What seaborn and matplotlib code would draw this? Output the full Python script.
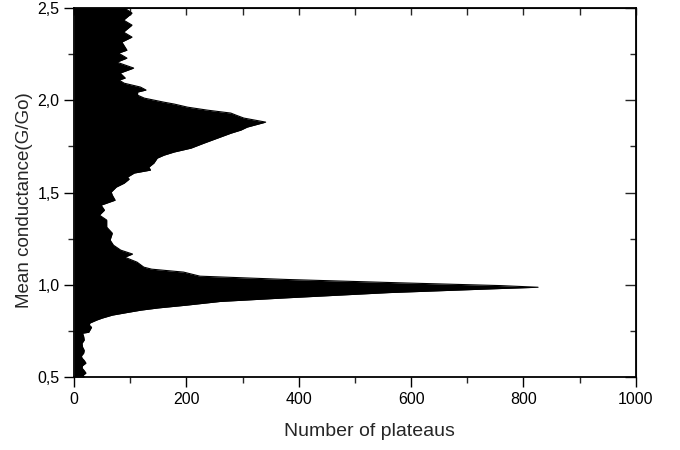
import matplotlib
matplotlib.use('Agg')
import matplotlib.pyplot as plt
import seaborn as sns
from matplotlib.ticker import MultipleLocator, FuncFormatter, NullFormatter

# conductance values (G/Go) and plateau counts
conductance = [0.500, 0.510, 0.522, 0.535, 0.549, 0.562, 0.576, 0.590, 0.603, 0.615,
               0.630, 0.645, 0.663, 0.683, 0.701, 0.720, 0.738, 0.743, 0.754, 0.770,
               0.782, 0.793, 0.809, 0.820, 0.836, 0.850, 0.863, 0.875, 0.890, 0.910,
               0.930, 0.958, 0.980, 0.987, 0.996, 1.011, 1.029, 1.047, 1.053, 1.069,
               1.085, 1.096, 1.123, 1.150, 1.167, 1.188, 1.215, 1.243, 1.280, 1.313,
               1.351, 1.378, 1.405, 1.432, 1.459, 1.486, 1.503, 1.530, 1.551, 1.573,
               1.584, 1.606, 1.622, 1.638, 1.660, 1.687, 1.703, 1.720, 1.741, 1.768,
               1.795, 1.822, 1.839, 1.855, 1.882, 1.904, 1.920, 1.931, 1.947, 1.963,
               1.980, 1.990, 2.012, 2.028, 2.045, 2.056, 2.072, 2.093, 2.110, 2.121,
               2.148, 2.175, 2.207, 2.229, 2.256, 2.272, 2.316, 2.343, 2.370, 2.408,
               2.435, 2.473, 2.500]
plateaus = [18, 16, 21, 18, 14, 15, 21, 18, 14, 13,
            17, 18, 15, 14, 18, 17, 15, 26, 28, 31,
            27, 28, 40, 50, 68, 94, 119, 150, 200, 260,
            380, 560, 758, 826, 758, 580, 380, 224, 216, 195,
            138, 124, 112, 90, 104, 83, 70, 64, 68, 58,
            58, 45, 54, 48, 73, 68, 66, 75, 89, 98,
            95, 107, 136, 133, 142, 148, 160, 178, 208, 231,
            255, 279, 297, 308, 341, 302, 288, 279, 237, 202,
            178, 160, 125, 113, 113, 128, 118, 89, 80, 91,
            82, 106, 76, 94, 79, 94, 85, 103, 88, 103,
            88, 103, 90]

sns.set_style('ticks')
plt.rcParams['font.family'] = ['Liberation Sans', 'DejaVu Sans']

fig, ax = plt.subplots(figsize=(6.8, 4.5), dpi=100)
fig.subplots_adjust(left=0.109, right=0.935, top=0.982, bottom=0.162)

sns.lineplot(x=plateaus, y=conductance, orient='y', estimator=None,
             color='black', lw=0.8, ax=ax)
ax.fill_betweenx(conductance, 0, plateaus, color='black', lw=0)

ax.set_xlim(0, 1000)
ax.set_ylim(0.5, 2.5)
ax.xaxis.set_major_locator(MultipleLocator(200))
ax.xaxis.set_minor_locator(MultipleLocator(100))
ax.yaxis.set_major_locator(MultipleLocator(0.5))
ax.yaxis.set_minor_locator(MultipleLocator(0.25))
ax.yaxis.set_major_formatter(FuncFormatter(lambda v, _: f"{v:.1f}".replace('.', ',')))
ax.tick_params(which='major', direction='out', length=7, width=1, labelsize=11.5,
               colors='black')
ax.tick_params(which='minor', direction='out', length=4, width=1)
for sp in ax.spines.values():
    sp.set_linewidth(1.3)
    sp.set_color('black')

top = ax.secondary_xaxis('top')
top.xaxis.set_major_locator(MultipleLocator(100))
top.xaxis.set_major_formatter(NullFormatter())
top.tick_params(direction='in', length=5, width=1)

right = ax.secondary_yaxis('right')
right.yaxis.set_major_locator(MultipleLocator(0.5))
right.yaxis.set_minor_locator(MultipleLocator(0.25))
right.yaxis.set_major_formatter(NullFormatter())
right.tick_params(which='major', direction='in', length=8, width=1)
right.tick_params(which='minor', direction='in', length=4, width=1)

ax.set_xlabel('Number of plateaus', fontsize=14)
ax.set_ylabel('Mean conductance(G/Go)', fontsize=13.5)
ax.xaxis.set_label_coords(0.525, -0.125)
ax.yaxis.set_label_coords(-0.074, 0.48)

fig.savefig('out.png', dpi=100)
